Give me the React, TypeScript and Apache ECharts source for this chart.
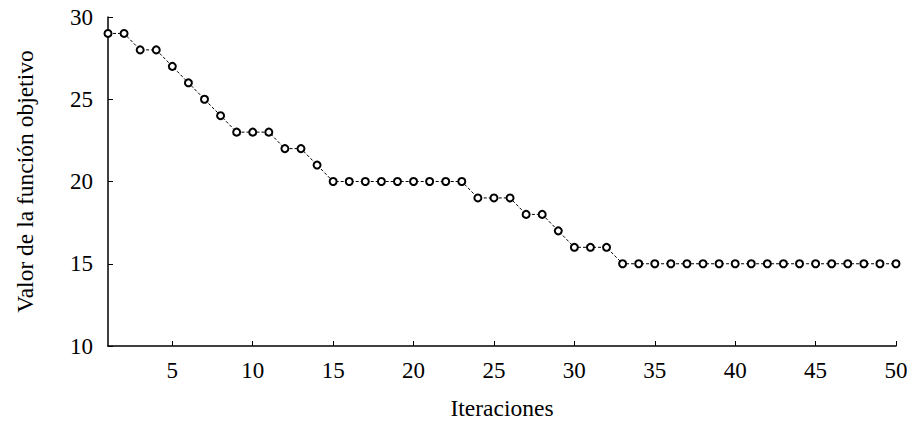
import React, { useEffect, useRef } from "react";
import * as echarts from "echarts";

const iterations = Array.from({ length: 50 }, (_, i) => i + 1);
const objectiveValues = [
  29, 29, 28, 28, 27, 26, 25, 24, 23, 23,
  23, 22, 22, 21, 20, 20, 20, 20, 20, 20,
  20, 20, 20, 19, 19, 19, 18, 18, 17, 16,
  16, 16, 15, 15, 15, 15, 15, 15, 15, 15,
  15, 15, 15, 15, 15, 15, 15, 15, 15, 15,
];
const xTicks = [5, 10, 15, 20, 25, 30, 35, 40, 45, 50];

const FONT = "Liberation Serif";
const FS = 23;
const NAME_FS = 23.5;

export default function App() {
  const ref = useRef<HTMLDivElement>(null);
  useEffect(() => {
    if (!ref.current) return;
    const chart = echarts.init(ref.current, null, { renderer: "svg" });
    chart.setOption({
      animation: false,
      backgroundColor: "#fff",
      grid: { left: 108, right: 17, top: 17, bottom: 75, containLabel: false, outerBoundsMode: "none" },
      xAxis: {
        type: "value",
        min: 1,
        max: 50,
        name: "Iteraciones",
        nameLocation: "middle",
        nameGap: 50,
        nameTextStyle: { fontFamily: FONT, fontSize: NAME_FS, color: "#000" },
        axisLine: { show: true, lineStyle: { color: "#000", width: 1.5 } },
        axisTick: { show: true, inside: true, length: 5, customValues: xTicks, lineStyle: { color: "#000" } },
        axisLabel: { customValues: xTicks, fontFamily: FONT, fontSize: FS, color: "#000", margin: 13 },
        splitLine: { show: false },
      },
      yAxis: {
        type: "value",
        min: 10,
        max: 30,
        interval: 5,
        name: "Valor de la función objetivo",
        nameLocation: "middle",
        nameGap: 71,
        nameRotate: 90,
        nameTextStyle: { fontFamily: FONT, fontSize: NAME_FS, color: "#000" },
        axisLine: { show: true, lineStyle: { color: "#000", width: 1.5 } },
        axisTick: { show: true, inside: true, length: 5, lineStyle: { color: "#000" } },
        axisLabel: { fontFamily: FONT, fontSize: FS, color: "#000", margin: 15 },
        splitLine: { show: false },
      },
      series: [
        {
          type: "line",
          data: iterations.map((it, i) => [it, objectiveValues[i]]),
          symbol: "emptyCircle",
          symbolSize: 7,
          showAllSymbol: true,
          lineStyle: { color: "#000", width: 1, type: [3, 2] },
          itemStyle: { color: "#000", borderColor: "#222", borderWidth: 0.9 },
        },
      ],
    });
    return () => chart.dispose();
  }, []);
  return <div ref={ref} style={{ width: 913, height: 421, position: "absolute", left: 0, top: 0 }} />;
}
